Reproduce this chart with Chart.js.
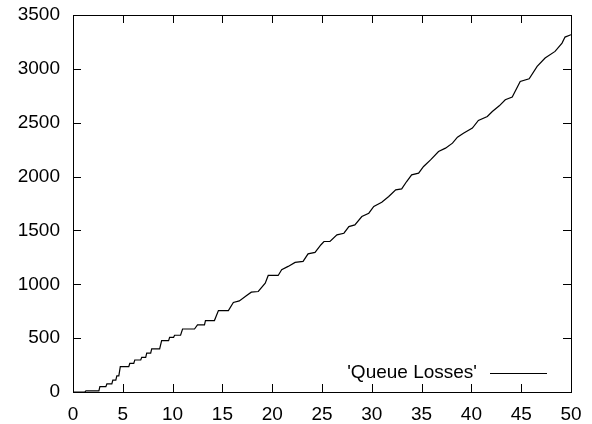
<!DOCTYPE html>
<html>
<head>
<meta charset="utf-8">
<script src="https://cdn.jsdelivr.net/npm/chart.js@4"></script>
<style>
  html, body { margin: 0; padding: 0; background: #fff; }
  #wrap { width: 592px; height: 424px; }
</style>
</head>
<body>
<div id="wrap"><canvas id="lossChart" width="592" height="424"></canvas></div>
<script>
// time (x) and cumulative losses (y)
const timeValues = [0, 1.2, 1.3, 2.6, 2.7, 3.3, 3.4, 3.9, 4.0, 4.3, 4.4, 4.6, 4.75, 5.6, 5.7, 6.1, 6.2, 6.8, 6.9, 7.3,
    7.4, 7.8, 7.9, 8.7, 8.9, 9.6, 9.7, 10.1, 10.2, 10.8, 11.0, 12.2, 12.5, 13.2, 13.3, 14.2,
    14.6, 15.6, 16.1, 16.7, 17.4, 17.9, 18.6, 19.3, 19.6, 20.6, 20.95, 21.6, 22.3, 23.1, 23.6, 24.3, 24.9, 25.2,
    25.8, 26.5, 27.2, 27.7, 28.3, 29.0, 29.7,
    30.2, 31.0, 31.7, 32.4, 33.0, 33.5, 34.0, 34.7, 35.2, 35.9, 36.7, 37.4, 38.1, 38.6, 39.2, 40.1, 40.7, 41.6, 42.1, 42.8,
    43.4, 44.1, 44.9, 45.8, 46.6, 47.4, 48.4, 49.1, 49.4, 50.0];
const queueLosses = [0, 0, 10, 10, 50, 50, 75, 75, 110, 110, 150, 150, 235, 235, 265, 265, 297, 297, 322, 322,
    360, 360, 400, 400, 477, 477, 508, 508, 527, 527, 585, 585, 623, 623, 663, 663,
    756, 756, 831, 846, 893, 927, 933, 1011, 1082, 1082, 1135, 1166, 1203, 1212, 1283, 1296, 1367, 1397,
    1397, 1459, 1474, 1536, 1551, 1629, 1660,
    1722, 1762, 1815, 1877, 1886, 1954, 2016, 2032, 2094, 2155, 2233, 2264, 2310, 2366, 2403, 2450, 2521, 2558, 2604, 2657,
    2713, 2738, 2883, 2908, 3023, 3100, 3162, 3239, 3295, 3317];
const seriesLabel = "'Queue Losses'";
const xTicks = [0, 5, 10, 15, 20, 25, 30, 35, 40, 45, 50];
const yTicks = [0, 500, 1000, 1500, 2000, 2500, 3000, 3500];

const FONT = "'Liberation Sans', Arial, sans-serif";
const FONT_SIZE = 19;

// gnuplot style: inward ticks on all four sides plus legend inside the box
const gnuplotFrame = {
    id: "gnuplotFrame",
    afterDraw(chart) {
        const ctx = chart.ctx;
        const area = chart.chartArea;
        const xs = chart.scales.x;
        const ys = chart.scales.y;
        const len = 8;
        ctx.save();
        ctx.strokeStyle = "#000";
        ctx.lineWidth = 1;
        ctx.beginPath();
        xTicks.forEach(v => {
            const px = Math.round(xs.getPixelForValue(v)) + 0.5;
            ctx.moveTo(px, area.bottom); ctx.lineTo(px, area.bottom - len);
            ctx.moveTo(px, area.top); ctx.lineTo(px, area.top + len);
        });
        yTicks.forEach(v => {
            const py = Math.round(ys.getPixelForValue(v)) + 0.5;
            ctx.moveTo(area.left, py); ctx.lineTo(area.left + len, py);
            ctx.moveTo(area.right, py); ctx.lineTo(area.right - len, py);
        });
        ctx.stroke();
        ctx.strokeRect(Math.round(area.left) + 0.5, Math.round(area.top) + 0.5,
            Math.round(area.right - area.left), Math.round(area.bottom - area.top));

        // legend
        const ly = area.bottom - 19;
        ctx.fillStyle = "#000";
        ctx.font = FONT_SIZE + "px " + FONT;
        ctx.textAlign = "right";
        ctx.textBaseline = "middle";
        ctx.fillText(seriesLabel, area.right - 94, ly);
        ctx.beginPath();
        ctx.lineWidth = 1.2;
        ctx.moveTo(area.right - 81, ly + 0.5);
        ctx.lineTo(area.right - 24, ly + 0.5);
        ctx.stroke();
        ctx.restore();
    }
};

const ctx = document.getElementById("lossChart").getContext("2d");
new Chart(ctx, {
    type: "line",
    data: {
        datasets: [{
            label: seriesLabel,
            data: timeValues.map((t, i) => ({ x: t, y: queueLosses[i] })),
            borderColor: "#000",
            borderWidth: 1.2,
            pointRadius: 0,
            tension: 0,
            fill: false
        }]
    },
    options: {
        responsive: false,
        animation: false,
        layout: { padding: { left: 0, top: 15, right: 21, bottom: 0 } },
        plugins: { legend: { display: false }, tooltip: { enabled: false } },
        scales: {
            x: {
                type: "linear",
                min: 0,
                max: 50,
                afterFit: s => { s.height = 32; s.paddingLeft = 0; s.paddingRight = 0; },
                afterBuildTicks: s => { s.ticks = xTicks.map(v => ({ value: v })); },
                grid: { display: false, drawTicks: false },
                border: { display: false },
                ticks: { color: "#000", padding: 11, font: { family: FONT, size: FONT_SIZE }, maxRotation: 0,
                    callback: v => String(v) }
            },
            y: {
                min: 0,
                max: 3500,
                afterFit: s => { s.width = 73; s.paddingTop = 0; s.paddingBottom = 0; },
                afterBuildTicks: s => { s.ticks = yTicks.map(v => ({ value: v })); },
                grid: { display: false, drawTicks: false },
                border: { display: false },
                ticks: { color: "#000", padding: 13, font: { family: FONT, size: FONT_SIZE },
                    callback: v => String(v) }
            }
        }
    },
    plugins: [gnuplotFrame]
});
</script>
</body>
</html>
